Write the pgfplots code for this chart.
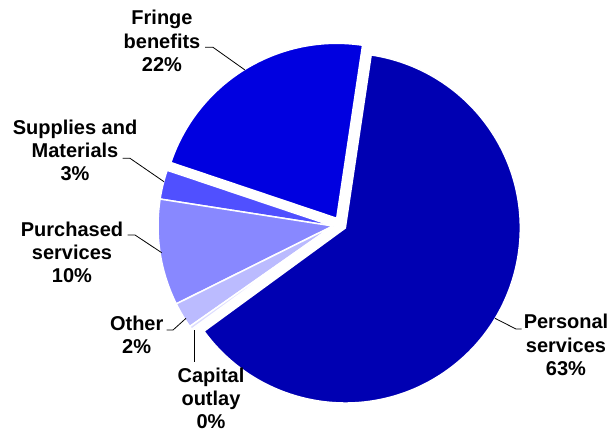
\documentclass[border=0pt]{standalone}
\usepackage{pgfplots}
\usepackage{pgfplotstable}
\pgfplotsset{compat=1.18}
\usepackage{fontspec}
\setmainfont{Liberation Sans}
\definecolor{sl0}{RGB}{0,0,224}
\definecolor{sl1}{RGB}{80,80,255}
\definecolor{sl2}{RGB}{136,136,255}
\definecolor{sl3}{RGB}{187,187,255}
\definecolor{sl4}{RGB}{220,220,255}
\definecolor{sl5}{RGB}{0,0,178}
% share (%), centre of slice (px, y down)
\pgfplotstableread{
value cx cy
22.2 336.7 218.3
2.7 333 226
9.8 333 226
2.4 333 226
0.3 333 226
62.6 345.3 228
}\piedata
\begin{document}
\begin{tikzpicture}
\begin{axis}[x=1bp, y=1bp, y dir=reverse, xmin=0, xmax=608, ymin=0, ymax=432,
  hide axis, clip=false, scale only axis]
\def\cur{81.5}
\pgfplotsforeachungrouped \i in {0,...,5}{%
  \pgfplotstablegetelem{\i}{value}\of\piedata \let\v\pgfplotsretval
  \pgfplotstablegetelem{\i}{cx}\of\piedata \let\cx\pgfplotsretval
  \pgfplotstablegetelem{\i}{cy}\of\piedata \let\cy\pgfplotsretval
  \pgfmathsetmacro\nxt{\cur+3.6*\v}%
  \edef\cmd{\noexpand\fill[sl\i, draw=white, line width=1.5bp] (axis cs:\cx,\cy) -- ++(\cur:175bp) arc[start angle=\cur, end angle=\nxt, radius=175bp] -- cycle;}%
  \cmd
  \global\let\cur\nxt
}
\tikzset{lb/.style={anchor=base, inner sep=0pt, font=\fontsize{20bp}{23bp}\selectfont\bfseries}}
% Fringe benefits
\node[lb] at (axis cs:162,24) {Fringe};
\node[lb] at (axis cs:162,48) {benefits};
\node[lb] at (axis cs:162,71) {22\%};
\draw[line width=0.8bp] (axis cs:205,47.3) -- (axis cs:213,47.3) -- (axis cs:245,70);
% Supplies
\node[lb] at (axis cs:75,134) {Supplies and};
\node[lb] at (axis cs:75,157) {Materials};
\node[lb] at (axis cs:75,180) {3\%};
\draw[line width=0.8bp] (axis cs:122.7,158.3) -- (axis cs:130,158.3) -- (axis cs:164,181.7);
% Purchased
\node[lb] at (axis cs:72,236) {Purchased};
\node[lb] at (axis cs:72,259.5) {services};
\node[lb] at (axis cs:72,282.7) {10\%};
\draw[line width=0.8bp] (axis cs:127.7,235) -- (axis cs:135,235) -- (axis cs:161.7,252.7);
% Other
\node[lb] at (axis cs:136.7,330) {Other};
\node[lb] at (axis cs:136.7,353.3) {2\%};
\draw[line width=0.8bp] (axis cs:166.7,330) -- (axis cs:173,330) -- (axis cs:186,318.3);
% Capital outlay
\node[lb] at (axis cs:211,382.7) {Capital};
\node[lb] at (axis cs:211,405.5) {outlay};
\node[lb] at (axis cs:211,428.5) {0\%};
\draw[line width=0.8bp] (axis cs:194.3,330) -- (axis cs:194.3,362);
% Personal services
\node[lb] at (axis cs:566,328.5) {Personal};
\node[lb] at (axis cs:566,352) {services};
\node[lb] at (axis cs:566,375) {63\%};
\draw[line width=0.8bp] (axis cs:495,318.3) -- (axis cs:516,329) -- (axis cs:521.7,329);
\end{axis}
\pgfresetboundingbox
\path[use as bounding box] (current axis.south west) rectangle (current axis.north east);
\end{tikzpicture}
\end{document}
